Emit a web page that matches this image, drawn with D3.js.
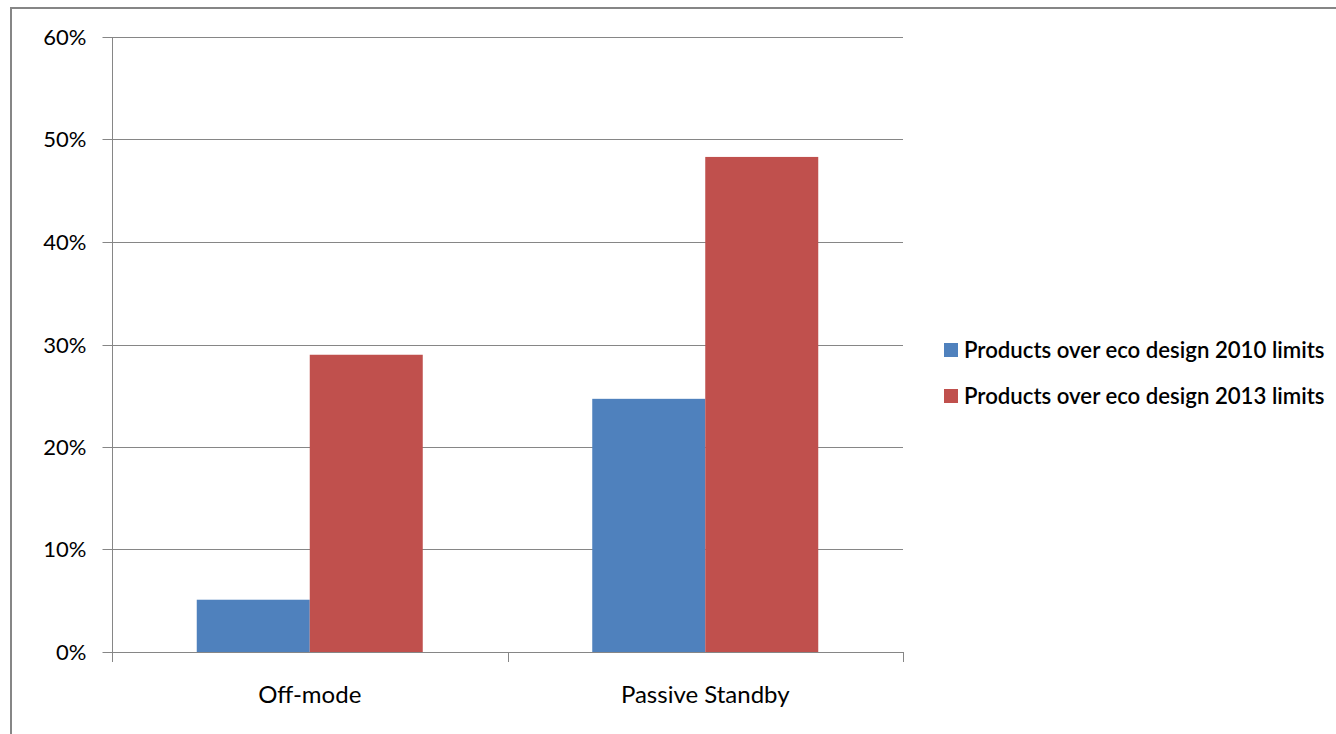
<!DOCTYPE html>
<html><head><meta charset="utf-8">
<script src="https://cdn.jsdelivr.net/npm/d3@7"></script>
<style>
html,body{margin:0;padding:0;background:#fff;overflow:hidden}
svg{display:block}
</style></head>
<body>
<svg id="chart" width="1336" height="734"></svg>
<script>
const categories = ["Off-mode", "Passive Standby"];
const seriesNames = ["Products over eco design 2010 limits", "Products over eco design 2013 limits"];
const values2010 = [0.051, 0.247];
const values2013 = [0.290, 0.483];
const yTicks = [0, 0.1, 0.2, 0.3, 0.4, 0.5, 0.6];
const colors = ["#4F81BD", "#C0504D"];

(function () {
const svg = d3.select("#chart");
const pL = 112, pR = 903, pT = 37, pB = 652;
const grid = "#868686";
const font = "Lato";

// outer frame
svg.append("rect").attr("x", 11).attr("y", 8).attr("width", 1340).attr("height", 740)
  .attr("fill", "none").attr("stroke", grid).attr("stroke-width", 2);

const x = d3.scaleBand().domain(categories).range([pL, pR]).paddingInner(0).paddingOuter(0);
const y = d3.scaleLinear().domain([0, 0.6]).range([pB, pT]);

// gridlines
svg.append("g").selectAll("line").data(yTicks.filter(d => d > 0)).join("line")
  .attr("x1", pL).attr("x2", pR)
  .attr("y1", d => Math.round(y(d)) + 0.5).attr("y2", d => Math.round(y(d)) + 0.5)
  .attr("stroke", grid).attr("stroke-width", 1);

// y axis
const yAxis = d3.axisLeft(y).tickValues(yTicks).tickFormat(d3.format(".0%")).tickSize(10).tickPadding(16);
const gy = svg.append("g").attr("transform", `translate(${pL + 0.5},0)`).call(yAxis);
gy.select(".domain").attr("stroke", grid).attr("d", `M0,${pT}V${pB}`);
gy.selectAll(".tick line").attr("stroke", grid);
gy.selectAll(".tick").attr("transform", d => `translate(0,${Math.round(y(d)) + 0.5})`);
gy.selectAll("text").attr("font-family", font).attr("font-size", 22).attr("fill", "#000");

// bars
const series = [values2010, values2013];
const bw = x.bandwidth() / 3.5;
const sub = d3.scaleBand().domain([0, 1]).range([0, 2 * bw]);
series.forEach((vals, si) => {
  svg.append("g").selectAll("rect").data(vals).join("rect")
    .attr("x", (d, i) => x(categories[i]) + bw * 0.75 + sub(si))
    .attr("width", sub.bandwidth())
    .attr("y", d => y(d))
    .attr("height", d => y(0) - y(d))
    .attr("fill", colors[si]);
});

// x axis
const xAxis = d3.axisBottom(x).tickSize(0).tickPadding(33);
const gx = svg.append("g").attr("transform", `translate(0,${pB + 0.5})`).call(xAxis);
gx.select(".domain").attr("stroke", grid).attr("d", `M${pL},0H${pR}`);
gx.selectAll("text").attr("font-family", font).attr("font-size", 24).attr("fill", "#000");
const bounds = [pL, x(categories[1]), pR];
svg.append("g").selectAll("line").data(bounds).join("line")
  .attr("x1", d => Math.round(d) + 0.5).attr("x2", d => Math.round(d) + 0.5)
  .attr("y1", pB).attr("y2", pB + 10)
  .attr("stroke", grid);

// legend
const lg = svg.append("g");
seriesNames.forEach((name, i) => {
  const yy = 350 + i * 46;
  lg.append("rect").attr("x", 944).attr("y", yy - 7).attr("width", 14).attr("height", 14).attr("fill", colors[i]);
  lg.append("text").attr("x", 964).attr("y", yy).attr("dy", "0.35em")
    .attr("font-family", font).attr("font-size", 22.2).attr("font-weight", 600).attr("fill", "#000").text(name);
});
})();
</script>
</body></html>
